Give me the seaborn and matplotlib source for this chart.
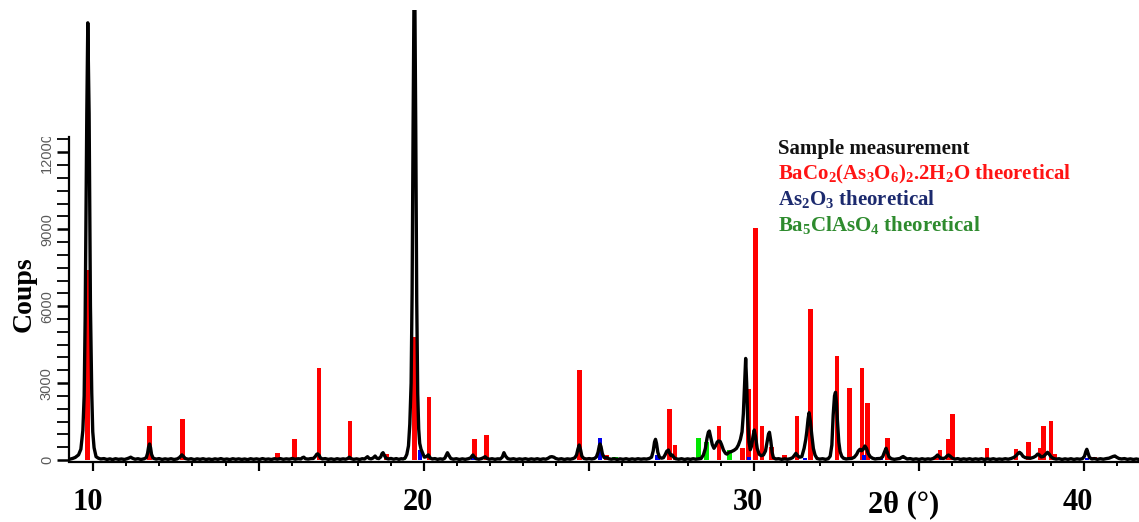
import matplotlib
matplotlib.use("Agg")
import numpy as np
import pandas as pd
import matplotlib.pyplot as plt
import seaborn as sns
from matplotlib.ticker import MultipleLocator, FixedLocator, FuncFormatter
from matplotlib.transforms import ScaledTranslation, Bbox, TransformedBbox

# ---------------------------------------------------------------- measured scan
scan_2theta = [
    9.28, 9.37, 9.45, 9.55, 9.62, 9.68, 9.72, 9.75, 9.80, 9.83, 9.87, 9.91, 9.95, 9.98, 10.02, 10.08, 10.15, 10.22,
    10.32, 10.41, 10.50, 10.58, 10.67, 10.76, 10.85, 10.94, 11.03, 11.09, 11.13, 11.18, 11.26, 11.35, 11.44, 11.53, 11.60,
    11.64, 11.67, 11.70, 11.73, 11.76, 11.81,
    11.90, 11.99, 12.08, 12.17, 12.26, 12.35, 12.44, 12.53, 12.60, 12.65, 12.68, 12.72, 12.78,
    12.87, 12.96, 13.05, 13.14, 13.23, 13.32, 13.41, 13.50, 13.59, 13.68, 13.77, 13.86, 13.95, 14.04, 14.13, 14.22,
    14.31, 14.40, 14.49, 14.58, 14.67, 14.76, 14.85, 14.94, 15.03, 15.12, 15.21, 15.30, 15.39, 15.48, 15.57, 15.66,
    15.75, 15.84, 15.93, 16.02, 16.11, 16.20, 16.28, 16.33, 16.37, 16.42, 16.50, 16.58, 16.66,
    16.72, 16.76, 16.79, 16.83, 16.87, 16.93,
    17.02, 17.11, 17.20, 17.29, 17.38, 17.47, 17.56, 17.64, 17.70, 17.75, 17.80, 17.88, 17.97, 18.06, 18.14, 18.21,
    18.26, 18.30, 18.35, 18.41, 18.47, 18.53, 18.58, 18.64, 18.70, 18.74, 18.77, 18.81, 18.86, 18.93, 19.01, 19.09,
    19.17, 19.25, 19.32, 19.38, 19.44,
    19.49, 19.54, 19.58, 19.62, 19.65, 19.68, 19.72, 19.76, 19.79, 19.82, 19.85, 19.88, 19.92, 19.97, 20.02, 20.08,
    20.14, 20.19, 20.26,
    20.34, 20.42, 20.50, 20.58, 20.64, 20.69, 20.72, 20.76, 20.82, 20.90, 20.99, 21.08, 21.17, 21.26, 21.35, 21.42,
    21.46, 21.49, 21.53, 21.59, 21.67, 21.75, 21.81, 21.86, 21.91, 21.98, 22.07, 22.16, 22.24, 22.32, 22.38, 22.43,
    22.48, 22.55, 22.63, 22.72, 22.81, 22.90, 22.99, 23.08, 23.17, 23.26, 23.35, 23.44, 23.53, 23.62, 23.70, 23.77,
    23.83, 23.88, 23.94, 24.00, 24.08, 24.17, 24.26, 24.35, 24.44, 24.52, 24.58,
    24.63, 24.67, 24.71, 24.75, 24.79, 24.85, 24.93, 25.01, 25.09, 25.17, 25.23, 25.28, 25.32, 25.34, 25.37, 25.41,
    25.46, 25.51, 25.55, 25.60, 25.68, 25.77, 25.86, 25.95, 26.04, 26.13, 26.22, 26.31, 26.40, 26.49, 26.58, 26.67,
    26.75, 26.83, 26.90, 26.95, 26.99, 27.02, 27.05, 27.09, 27.14, 27.20, 27.26, 27.31, 27.36, 27.41, 27.45, 27.49,
    27.53, 27.57, 27.63, 27.72, 27.81, 27.90, 27.99, 28.08, 28.16, 28.24, 28.32, 28.40, 28.47, 28.53, 28.58, 28.62,
    28.65, 28.69, 28.74, 28.79, 28.84, 28.89, 28.93, 28.98, 29.02, 29.08, 29.14, 29.18, 29.25, 29.32, 29.40, 29.47,
    29.53, 29.59, 29.64, 29.68, 29.72, 29.75, 29.78, 29.81, 29.85, 29.89, 29.93, 29.97, 30.01, 30.05, 30.10, 30.16,
    30.22, 30.29, 30.35, 30.40, 30.44, 30.47, 30.51, 30.55, 30.59, 30.66, 30.75, 30.84, 30.93, 31.02, 31.10, 31.17,
    31.22, 31.27, 31.32, 31.38, 31.45, 31.52, 31.57, 31.60, 31.64, 31.67, 31.71, 31.75, 31.80, 31.85, 31.91, 31.99,
    32.08, 32.17, 32.25, 32.31, 32.36, 32.40, 32.44, 32.47, 32.50, 32.53, 32.57, 32.61, 32.66, 32.71, 32.79, 32.88,
    32.96, 33.04, 33.11, 33.16, 33.21, 33.26, 33.31, 33.36, 33.41, 33.46, 33.52, 33.59, 33.67, 33.75, 33.83, 33.90,
    33.95, 34.00, 34.04, 34.09, 34.16, 34.25, 34.34, 34.42, 34.48, 34.52, 34.57, 34.64, 34.73, 34.82, 34.91, 35.00,
    35.09, 35.18, 35.27, 35.35, 35.43, 35.50, 35.56, 35.61, 35.67, 35.74, 35.80, 35.85, 35.89, 35.94, 36.00, 36.08,
    36.17, 36.26, 36.35, 36.44, 36.53, 36.62, 36.71, 36.80, 36.89, 36.98, 37.07, 37.16, 37.25, 37.34, 37.43, 37.52,
    37.61, 37.70, 37.79, 37.87, 37.94, 38.00, 38.04, 38.09, 38.15, 38.22, 38.30, 38.38, 38.46, 38.53, 38.59, 38.64,
    38.70, 38.77, 38.83, 38.89, 38.94, 39.00, 39.07, 39.15, 39.24, 39.33, 39.42, 39.51, 39.60, 39.69, 39.78, 39.87,
    39.95, 40.01, 40.05, 40.08, 40.11, 40.16, 40.23, 40.31, 40.40, 40.49, 40.58, 40.67, 40.75, 40.82, 40.88, 40.93,
    40.98, 41.05, 41.13, 41.22, 41.31, 41.40, 41.49, 41.58, 41.66,
]
scan_counts = [
    30, 60, 100, 200, 420, 1150, 2500, 5500, 13500, 17050, 13500, 6000, 2600, 1100, 480, 130, 70, 40,
    55, 20, 45, 15, 50, 25, 40, 20, 55, 85, 110, 70, 30, 50, 20, 45, 90,
    260, 500, 625, 480, 220, 70,
    35, 55, 20, 45, 25, 50, 20, 40, 90, 160, 200, 150, 60,
    30, 50, 15, 45, 25, 50, 20, 40, 15, 45, 25, 55, 20, 40, 15, 50,
    25, 45, 20, 40, 15, 50, 25, 45, 20, 55, 25, 40, 20, 50, 30, 55,
    25, 45, 30, 60, 30, 50, 40, 90, 110, 50, 35, 55, 60,
    140, 220, 240, 190, 90, 40,
    55, 25, 45, 20, 50, 25, 45, 30, 60, 110, 55, 25, 45, 20, 50, 40,
    90, 130, 60, 45, 80, 155, 70, 55, 120, 250, 285, 180, 70, 40, 60, 30,
    55, 25, 50, 40, 80,
    220, 550, 1400, 3000, 6500, 13000, 20500, 13000, 6200, 2600, 1200, 650, 420, 260, 110, 130,
    200, 90, 40,
    55, 25, 45, 30, 70, 200, 285, 190, 60, 30, 50, 20, 45, 25, 50, 80,
    150, 195, 120, 50, 30, 55, 90, 130, 70, 30, 50, 25, 45, 40, 110, 285,
    150, 50, 30, 50, 20, 45, 25, 50, 20, 45, 25, 50, 20, 45, 30, 70,
    120, 130, 110, 60, 30, 50, 20, 45, 30, 55, 90,
    200, 420, 585, 400, 150, 60, 40, 55, 40, 60, 120, 300, 560, 624, 520, 250,
    100, 80, 95, 50, 30, 50, 20, 45, 25, 50, 20, 45, 25, 50, 30, 45,
    35, 60, 110, 350, 700, 806, 650, 300, 110, 70, 90, 200, 340, 390, 260, 170,
    195, 110, 50, 30, 50, 20, 45, 25, 50, 30, 45, 60, 195, 450, 850, 1080,
    1130, 900, 600, 456, 560, 700, 741, 720, 600, 380, 260, 230, 300, 330, 380, 450,
    585, 800, 1100, 1800, 3000, 3960, 3000, 1600, 700, 400, 550, 900, 1170, 900, 450, 222,
    170, 200, 350, 700, 1000, 1080, 750, 300, 90, 40, 50, 25, 45, 30, 50, 90,
    170, 260, 170, 110, 130, 456, 800, 1100, 1600, 1845, 1500, 1000, 450, 195, 60, 35,
    50, 25, 50, 150, 585, 1755, 2500, 2640, 2200, 1500, 700, 325, 140, 70, 40, 55,
    60, 110, 220, 350, 417, 360, 420, 546, 450, 260, 130, 70, 40, 55, 60, 130,
    300, 456, 300, 120, 50, 25, 45, 60, 110, 135, 90, 40, 55, 25, 45, 20,
    50, 25, 45, 30, 60, 120, 195, 120, 70, 60, 90, 160, 195, 150, 80, 35,
    55, 20, 45, 25, 50, 20, 45, 25, 50, 20, 45, 25, 50, 20, 40, 25,
    50, 30, 60, 100, 170, 260, 300, 250, 140, 90, 80, 70, 100, 150, 230, 200,
    120, 140, 220, 300, 230, 120, 60, 35, 50, 20, 45, 25, 50, 20, 45, 30,
    55, 150, 330, 417, 300, 100, 40, 55, 25, 50, 30, 55, 70, 110, 140, 156,
    110, 60, 40, 55, 25, 45, 20, 40, 20,
]

# ------------------------------------------------------- reference line patterns
baco_2theta = [9.83, 11.70, 12.69, 15.58, 16.08, 16.83, 17.77, 18.88, 19.72, 20.16, 21.53, 21.91,
               24.71, 25.54, 27.44, 27.61, 28.94, 29.66, 29.83, 30.05, 30.24, 30.54, 30.92, 31.30,
               31.72, 32.51, 32.89, 33.27, 33.43, 34.05, 35.51, 35.63, 35.89, 36.02, 37.06, 37.94,
               38.32, 38.66, 38.76, 38.99, 39.10, 40.31]
baco_counts = [7400, 1330, 1590, 260, 810, 3590, 1530, 240, 4810, 2440, 810, 975,
               3510, 195, 1980, 585, 1330, 456, 2770, 9060, 1330, 520, 195, 1720,
               5890, 4060, 2800, 3580, 2240, 850, 120, 390, 810, 1790, 456, 417,
               690, 456, 1330, 1530, 234, 100]

as2o3_2theta = [19.89, 21.49, 22.67, 25.34, 27.08, 29.85, 31.55, 33.34, 33.75, 33.84, 35.66, 40.08]
as2o3_counts = [390, 60, 40, 840, 195, 100, 60, 180, 100, 100, 60, 60]

ba5_2theta = [19.39, 22.97, 25.01, 25.79, 28.32, 28.57, 29.26]
ba5_counts = [40, 60, 40, 105, 870, 715, 380]

legend_lines = [
    ("Sample measurement", "#111111"),
    (r"BaCo$_2$(As$_3$O$_6$)$_2$.2H$_2$O theoretical", "#ff1414"),
    (r"As$_2$O$_3$ theoretical", "#1c2a6e"),
    (r"Ba$_5$ClAsO$_4$ theoretical", "#2e8b2e"),
]
y_tick_values = [0, 3000, 6000, 9000, 12000]

# ------------------------------------------------------------------- styling
sns.set_theme(style="ticks")
plt.rcParams["font.family"] = ["Liberation Serif", "DejaVu Serif"]
plt.rcParams["mathtext.fontset"] = "custom"
plt.rcParams["mathtext.default"] = "regular"

W, H = 1139, 522
fig = plt.figure(figsize=(W / 100, H / 100), dpi=100)
fig.patch.set_facecolor("white")
ax = fig.add_axes([69.3 / W, 1 - 462 / H, 1 - 69.3 / W, 452 / H])
ax.set_facecolor("white")

# stick patterns behind the measured trace
ax.bar(baco_2theta, baco_counts, width=0.14, color="#ff0000", linewidth=0, zorder=2)
ax.bar(as2o3_2theta, as2o3_counts, width=0.13, color="#0000ee", linewidth=0, zorder=2.1)
ax.bar(ba5_2theta, ba5_counts, width=0.16, color="#00e600", linewidth=0, zorder=2.2)

scan = pd.DataFrame({"two_theta": scan_2theta, "counts": scan_counts})
sns.lineplot(data=scan, x="two_theta", y="counts", color="black", linewidth=2.4,
             estimator=None, sort=False, ax=ax, zorder=3)

ax.set_xlim(9.27, 41.66)
ax.set_ylim(-78, 17550)
ax.set_xlabel("")
ax.set_ylabel("")

for side in ("top", "right"):
    ax.spines[side].set_visible(False)
ax.spines["left"].set_bounds(0, 12600)
ax.spines["left"].set_linewidth(1.6)
ax.spines["bottom"].set_linewidth(1.6)
ax.spines["left"].set_color("black")
ax.spines["bottom"].set_color("black")

# x axis: long ticks every 5 degrees, short every degree, labels every 10
ax.xaxis.set_major_locator(MultipleLocator(5))
ax.xaxis.set_minor_locator(MultipleLocator(1))
ax.xaxis.set_major_formatter(FuncFormatter(lambda v, p: f"{int(round(v))}" if round(v) % 10 == 0 else ""))
ax.tick_params(axis="x", which="major", direction="out", length=6.5, width=1.6, color="black",
               pad=12.5, labelsize=22, labelcolor="black")
ax.tick_params(axis="x", which="minor", direction="out", length=3.0, width=1.4, color="black")

# y axis
ax.yaxis.set_major_locator(FixedLocator(y_tick_values))
ax.yaxis.set_minor_locator(FixedLocator(list(range(0, 12600, 500))))
ax.yaxis.set_major_formatter(FuncFormatter(lambda v, p: f"{int(v)}"))
ax.tick_params(axis="y", which="major", direction="out", length=8.6, width=1.8, color="black",
               pad=2.5, labelsize=10.5, labelcolor="#5a5a5a", labelrotation=90)
ax.tick_params(axis="y", which="minor", direction="out", length=8.6, width=1.3, color="black")

fig.canvas.draw()
shift = ScaledTranslation(-6 / 100, 0, fig.dpi_scale_trans)
for lab in ax.get_xticklabels():
    lab.set_fontweight("bold")
    lab.set_transform(lab.get_transform() + shift)
clip = TransformedBbox(Bbox.from_extents(0, 0, 1, 1 - 137 / H), fig.transFigure)
for lab in ax.get_yticklabels():
    lab.set_fontfamily(["Liberation Sans", "DejaVu Sans"])
    lab.set_va("center")
    lab.set_clip_on(True)
    lab.set_clip_box(clip)

# axis titles
fig.text(24 / W, 1 - 294 / H, "Coups", rotation=90, fontsize=20, fontweight="bold",
         ha="center", va="center", color="black")
fig.text(868 / W, 1 - 512 / H, "2θ (°)", fontsize=22, fontweight="bold",
         ha="left", va="baseline", color="black")

# legend block
baselines = [154, 179.5, 205, 230.5]
for (txt, col), yb in zip(legend_lines, baselines):
    fig.text(778 / W, 1 - yb / H, txt, fontsize=15, fontweight="bold", color=col,
             ha="left", va="baseline")

fig.savefig("out.png", dpi=100, facecolor="white")
